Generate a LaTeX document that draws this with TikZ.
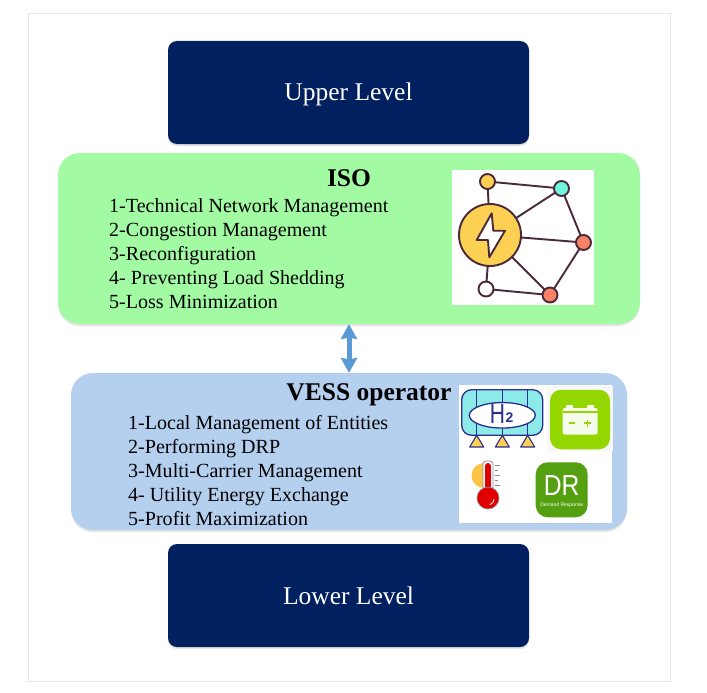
\documentclass[tikz,border=0pt]{standalone}
\usepackage{fontspec}
\setmainfont{Liberation Serif}
\newfontfamily\iconsans{Liberation Sans}
\usetikzlibrary{arrows.meta,shadows,shapes.geometric}
\definecolor{navybox}{HTML}{002060}
\definecolor{greenbox}{HTML}{A2FBA2}
\definecolor{bluebox}{HTML}{B4D0EE}
\definecolor{arrowblue}{HTML}{5B9BD5}
\definecolor{framegrey}{HTML}{E6E6E6}
\definecolor{netline}{HTML}{4A2A3A}
\definecolor{sunyellow}{HTML}{FCD052}
\definecolor{netcyan}{HTML}{6FF5E0}
\definecolor{netorange}{HTML}{F98266}
\definecolor{htwoline}{HTML}{2A2F8F}
\definecolor{htwofill}{HTML}{8CEBE8}
\definecolor{limegreen}{HTML}{93D600}
\definecolor{drgreen}{HTML}{55A011}
\tikzset{
  softshadow/.style={drop shadow={shadow xshift=0pt,shadow yshift=-2pt,opacity=.18,fill=black!60}},
  levelbox/.style={draw=none,fill=navybox,rounded corners=9pt,text=white,minimum width=361pt,minimum height=103pt,outer sep=0pt,inner sep=0pt,softshadow},
  leveltext/.style={text=white,inner sep=0pt,anchor=base,font=\fontsize{25.5}{30}\selectfont},
  panel/.style={draw=none,rounded corners=22pt,outer sep=0pt,inner sep=0pt,softshadow},
  paneltitle/.style={font=\fontsize{25.5}{30}\selectfont\bfseries,inner sep=0pt,text=black},
  itemlist/.style={font=\fontsize{20.05}{24}\selectfont,align=left,anchor=north west,inner sep=0pt,text=black},
  netnode/.style={circle,draw=netline,line width=1.9pt,minimum size=15pt,inner sep=0pt,outer sep=0pt},
  netlink/.style={draw=netline,line width=1.9pt},
  linkarrow/.style={draw=arrowblue,line width=5pt,{Stealth[length=15pt,width=16pt,inset=1.5pt]}-{Stealth[length=15pt,width=16pt,inset=1.5pt]}},
  iconback/.style={fill=white,draw=none,inner sep=0pt,outer sep=0pt},
}
\begin{document}
\begin{tikzpicture}[x=1pt,y=-1pt]
\useasboundingbox (0,0) rectangle (707,693);
\fill[white] (0,0) rectangle (707,693);
\node[draw=framegrey,line width=.8pt,fill=white,minimum width=642pt,minimum height=668pt,inner sep=0pt] (frame) at (349,347) {};

\node[levelbox] (upper) at (348.5,92.5) {};
\node[leveltext] (uppertext) at (348.5,100.5) {Upper Level};
\node[levelbox] (lower) at (348.5,595.5) {};
\node[leveltext] (lowertext) at (348.5,604) {Lower Level};
\node[panel,fill=greenbox,minimum width=582pt,minimum height=171pt] (iso) at (349,238.5) {};
\node[panel,fill=bluebox,minimum width=556pt,minimum height=157pt] (vess) at (349,451.5) {};
\draw[linkarrow] (iso.south) -- (vess.north);

\node[paneltitle] (isotitle) at (349,178) {ISO};
\node[itemlist] (isolist) at (109,198) {1-Technical Network Management\\2-Congestion Management\\3-Reconfiguration\\4- Preventing Load Shedding\\5-Loss Minimization};
\node[paneltitle] (vesstitle) at (369,395) {VESS operator};
\node[itemlist] (vesslist) at (128,415) {1-Local Management of Entities\\2-Performing DRP\\3-Multi-Carrier Management\\4- Utility Energy Exchange\\5-Profit Maximization};

% network icon
\node[iconback,minimum width=142pt,minimum height=135pt] (neticon) at (523,237.5) {};
\node[netnode,fill=sunyellow,minimum size=62pt] (hub) at (490,235) {};
\node[netnode,fill=sunyellow] (na) at (487.5,181.5) {};
\node[netnode,fill=netcyan] (nb) at (561.5,188.5) {};
\node[netnode,fill=netorange] (nc) at (583.5,242.5) {};
\node[netnode,fill=netorange] (nd) at (550,295) {};
\node[netnode,fill=white] (ne) at (486,289) {};
\draw[netlink] (hub) -- (na) (hub) -- (nb) (hub) -- (nc) (hub) -- (nd) (hub) -- (ne)
  (na) -- (nb) (nb) -- (nc) (nc) -- (nd) (nd) -- (ne);
\draw[netlink,fill=white,line join=round] (491.7,213.3) -- (476.7,240) -- (488,240) -- (489.3,257.3) -- (505,230.7) -- (493.3,230.7) -- cycle;

% VESS icons
\node[iconback,minimum width=153pt,minimum height=138pt] (vessicon) at (535.5,454) {};
\fill[black!3] (547,386) rectangle (613,451);
\node[fill=limegreen,rounded corners=11pt,minimum width=60pt,minimum height=59.5pt,inner sep=0pt] (batt) at (580,419.5) {};
\fill[white!92!limegreen,rounded corners=2pt] (562.7,408) rectangle (597.7,434.5);
\fill[white!92!limegreen] (566,405) rectangle (573,408) (587,405) rectangle (594,408);
\draw[limegreen,line width=1.1pt] (562.7,412) -- (597.7,412);
\draw[limegreen,line width=1.3pt] (569,423) -- (575,423) (584,423) -- (591,423) (587.5,419.5) -- (587.5,426.5);

% H2 storage
\draw[htwoline,line width=1.3pt,fill=htwofill,rounded corners=10pt] (461.7,389.7) rectangle (542.7,435.3);
\draw[htwoline,line width=1.2pt] (476.7,389.7) -- (476.7,435.3) (502.3,389.7) -- (502.3,435.3) (527.7,389.7) -- (527.7,435.3);
\foreach \tx in {476.7,502.3,527.7}{
  \draw[htwoline,line width=1.1pt,fill=sunyellow,line join=round] (\tx,435.3) -- (\tx+7,447) -- (\tx-7,447) -- cycle;
}
\node[draw=htwoline,line width=1.3pt,fill=white,ellipse,minimum width=66pt,minimum height=25.5pt,inner sep=0pt] (htwo) at (502.3,415.3) {};
\node[inner sep=0pt,text=htwoline,font=\iconsans\fontsize{28}{30}\selectfont,xscale=.75] (htwotext) at (497.5,413.5) {H};
\node[inner sep=0pt,text=htwoline,font=\iconsans\bfseries\fontsize{14}{15}\selectfont] (htwosub) at (509.5,418) {2};

% thermometer
\fill[sunyellow!85!orange] (484,475.5) circle (12.5pt);
\fill[white] (488,460) rectangle (502,492);
\draw[black!45,line width=.7pt,fill=white,rounded corners=3pt] (483,461) rectangle (493,492);
\draw[red!88!black,line width=6pt,line cap=round] (488,466) -- (488,492);
\fill[red!88!black,draw=black!45,line width=.7pt] (488,498) circle (11pt);
\draw[black!45,line width=.7pt] (494.5,465) -- (500,465) (494.5,470) -- (498,470) (494.5,475) -- (500,475) (494.5,480) -- (498,480) (494.5,485) -- (500,485);
\draw[white,line width=.8pt] (494,499) arc (0:-70:6pt);

% DR icon
\node[fill=drgreen,rounded corners=12pt,minimum width=52pt,minimum height=55pt,inner sep=0pt] (dricon) at (561.7,489.8) {};
\node[text=white,inner sep=0pt,font=\iconsans\fontsize{29}{30}\selectfont,xscale=.85] (drtext) at (561.7,486) {DR};
\node[text=white,inner sep=0pt,font=\iconsans\fontsize{5}{6}\selectfont] (drsub) at (561.7,505.5) {Demand Response};
\end{tikzpicture}
\end{document}
